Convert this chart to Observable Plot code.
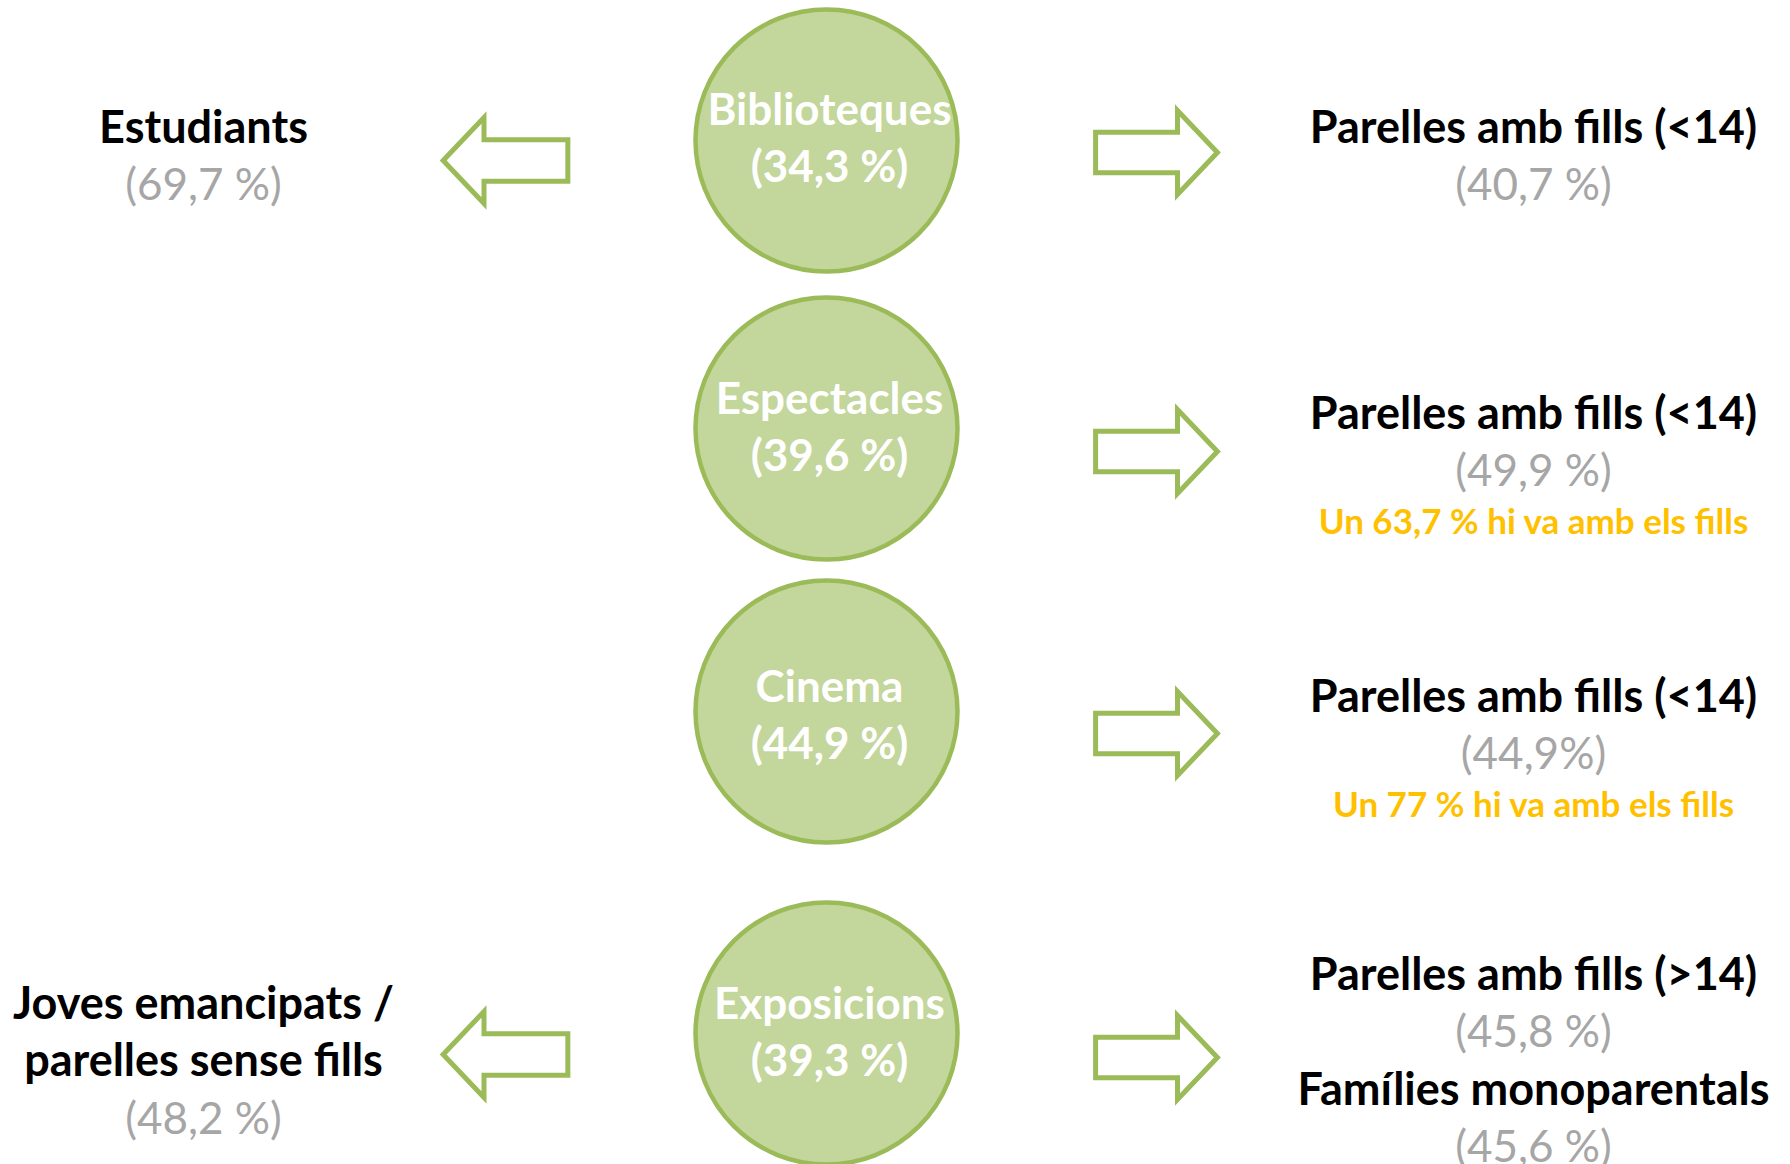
<!DOCTYPE html>
<html>
<head>
<meta charset="utf-8">
<script src="https://cdn.jsdelivr.net/npm/d3@7"></script>
<script src="https://cdn.jsdelivr.net/npm/@observablehq/plot@0.6"></script>
<style>
  html, body { margin: 0; padding: 0; background: #fff; }
  #chart svg { display: block; }
</style>
</head>
<body>
<div id="chart"></div>
<script>
// ---- Data ----
const activities = ["Biblioteques", "Espectacles", "Cinema", "Exposicions"];
const activityPct = [34.3, 39.6, 44.9, 39.3];

// left-hand profile (only for some activities)
const leftProfiles = ["Estudiants", null, null, "Joves emancipats /\nparelles sense fills"];
const leftPct = [69.7, null, null, 48.2];

// right-hand profiles
const rightProfiles = [
  ["Parelles amb fills (<14)"],
  ["Parelles amb fills (<14)"],
  ["Parelles amb fills (<14)"],
  ["Parelles amb fills (>14)", "Famílies monoparentals"]
];
const rightPct = [[40.7], [49.9], [44.9], [45.8, 45.6]];
const rightPctSep = [[" "], [" "], [""], [" ", " "]];
const notes = [null, "Un 63,7 % hi va amb els fills", "Un 77 % hi va amb els fills", null];

// ---- Layout ----
const W = 1790, H = 1164;
const rowY = [140, 428, 711, 1033];           // circle centres
const col = {left: 203, arrowL: 505, circle: 826, circleText: 829, arrowR: 1156, right: 1533};
const lineGap = 57.5;
const circleTextOffset = [-30, -29, -24, -29];
const leftTop = [128, null, null, 1004];
const rightTop = [128, 414, 697, 975];
const noteGap = 51;
const arrowLY = [160, null, null, 1054];
const arrowRY = [152, 451, 733, 1057];

const fmt = v => String(v).replace(".", ",");
const green = "#9BBB59", lightGreen = "#C3D69B", grey = "#A6A6A6", orange = "#FFC000";
const FONT = "Lato, 'Open Sans', sans-serif";

// block-arrow symbols
function blockArrow(dir) {
  return {
    draw(ctx, size) {
      const r = Math.sqrt(size / Math.PI);
      const tip = 1.45 * r, base = 0.5 * r, body = 0.48 * r, head = r;
      const pts = [[-tip, -body], [base, -body], [base, -head], [tip, 0], [base, head], [base, body], [-tip, body]];
      pts.forEach(([x, y], i) => {
        const px = dir * x;
        i ? ctx.lineTo(px, y) : ctx.moveTo(px, y);
      });
      ctx.closePath();
    }
  };
}

// ---- Build mark tables ----
const circles = activities.map((a, i) => ({name: a, x: col.circle, y: rowY[i]}));
const circleText = activities.flatMap((a, i) => [
  {t: a, x: col.circleText, y: rowY[i] + circleTextOffset[i]},
  {t: `(${fmt(activityPct[i])} %)`, x: col.circleText, y: rowY[i] + circleTextOffset[i] + lineGap}
]);

const blackText = [], greyText = [], orangeText = [];
leftProfiles.forEach((p, i) => {
  if (!p) return;
  const lines = p.split("\n");
  lines.forEach((l, k) => blackText.push({t: l, x: col.left, y: leftTop[i] + k * lineGap}));
  greyText.push({t: `(${fmt(leftPct[i])} %)`, x: col.left, y: leftTop[i] + lines.length * lineGap});
});
rightProfiles.forEach((ps, i) => {
  let y = rightTop[i];
  ps.forEach((p, k) => {
    blackText.push({t: p, x: col.right, y});
    y += lineGap;
    greyText.push({t: `(${fmt(rightPct[i][k])}${rightPctSep[i][k]}%)`, x: col.right, y});
    y += lineGap;
  });
  if (notes[i]) orangeText.push({t: notes[i], x: col.right, y: y - lineGap + noteGap});
});

const arrowsL = arrowLY.map((y, i) => y == null ? null : {x: col.arrowL, y}).filter(d => d);
const arrowsR = arrowRY.map(y => ({x: col.arrowR, y}));

const chart = Plot.plot({
  width: W,
  height: H,
  margin: 0,
  x: {domain: [0, W], range: [0, W], axis: null},
  y: {domain: [0, H], range: [0, H], axis: null},
  style: {background: "#fff"},
  marks: [
    Plot.dot(circles, {x: "x", y: "y", r: 131, fill: lightGreen, stroke: green, strokeWidth: 4.5}),
    Plot.dot(arrowsL, {x: "x", y: "y", r: 43, symbol: blockArrow(-1), fill: "#fff", stroke: green, strokeWidth: 5, strokeLinejoin: "miter"}),
    Plot.dot(arrowsR, {x: "x", y: "y", r: 42, symbol: blockArrow(1), fill: "#fff", stroke: green, strokeWidth: 5, strokeLinejoin: "miter"}),
    Plot.text(circleText, {x: "x", y: "y", text: "t", fill: "#fff", fontSize: 44, fontWeight: "bold", fontFamily: FONT, lineAnchor: "middle"}),
    Plot.text(blackText, {x: "x", y: "y", text: "t", fill: "#000", fontSize: 45, fontWeight: "bold", fontFamily: FONT, lineAnchor: "middle"}),
    Plot.text(greyText, {x: "x", y: "y", text: "t", fill: grey, fontSize: 44, fontWeight: "normal", fontFamily: FONT, lineAnchor: "middle"}),
    Plot.text(orangeText, {x: "x", y: "y", text: "t", fill: orange, fontSize: 35, fontWeight: "bold", fontFamily: FONT, lineAnchor: "middle"})
  ]
});
document.getElementById("chart").appendChild(chart);
</script>
</body>
</html>
